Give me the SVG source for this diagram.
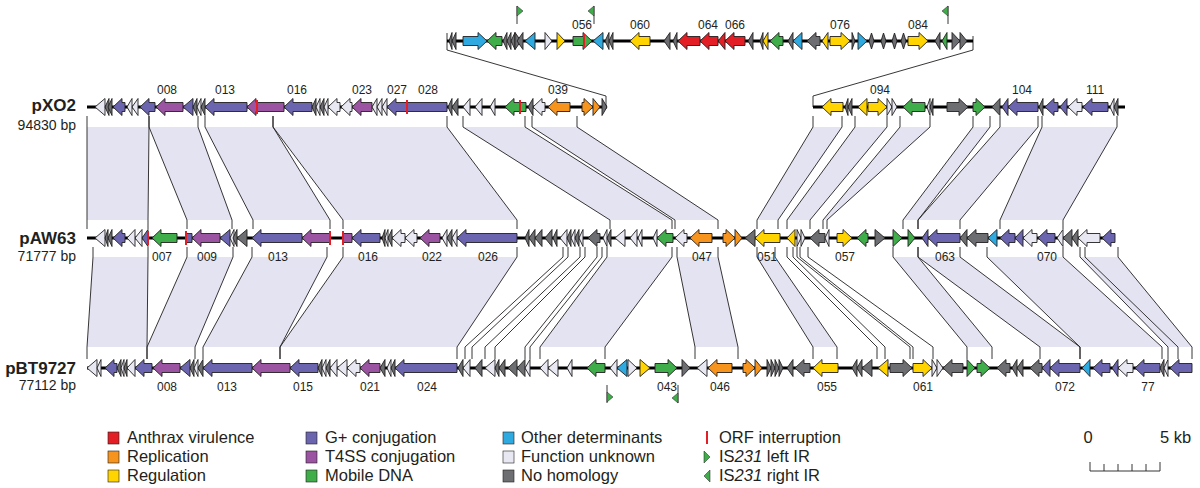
<svg xmlns="http://www.w3.org/2000/svg" width="1200" height="488" viewBox="0 0 1200 488">
<style>
.gn path{stroke:#231f20;stroke-width:0.9}
.r{fill:#e31e24}.o{fill:#f7941d}.y{fill:#ffd400}.p{fill:#6a65ae}.t{fill:#9a54a2}.m{fill:#3fad49}.b{fill:#2eaae1}.u{fill:#e8e8f3}.n{fill:#6d6e71}
.bb{fill:#e3e3f1}
.ln{fill:none;stroke:#231f20;stroke-width:0.9}
.bk{stroke:#000;stroke-width:3}
.ir{stroke:#e31e24;stroke-width:2}
.lab{font-family:"Liberation Sans",Arial,sans-serif;font-size:12px;fill:#231f20;text-anchor:middle}
.nm{font-family:"Liberation Sans",Arial,sans-serif;font-size:17px;font-weight:bold;fill:#231f20;text-anchor:end}
.bp{font-family:"Liberation Sans",Arial,sans-serif;font-size:14px;fill:#231f20;text-anchor:end}
.lg{font-family:"Liberation Sans",Arial,sans-serif;font-size:16.5px;fill:#231f20}
.fl{fill:#3fad49;stroke:#231f20;stroke-width:0.5}
</style>
<rect width="1200" height="488" fill="#fff"/>
<g id="connectors">
<g class="bb">
<polygon points="87,127 149,127 148,220 87,220"/>
<polygon points="149,127 198,127 232,220 187,220"/>
<polygon points="205,127 273,127 330,220 253,220"/>
<polygon points="273,127 447,127 517,220 343,220"/>
<polygon points="463,127 525,127 672,220 610,220"/>
<polygon points="532,127 577,127 718,220 675,220"/>
<polygon points="813,127 842,127 778,220 757,220"/>
<polygon points="855,127 887,127 810,220 787,220"/>
<polygon points="900,127 930,127 827,220 823,220"/>
<polygon points="973,127 990,127 918,220 903,220"/>
<polygon points="1000,127 1038,127 960,220 918,220"/>
<polygon points="1042,127 1117,127 1063,220 1000,220"/>
<polygon points="93,257 148,257 147,347 87,347"/>
<polygon points="187,257 233,257 195,347 147,347"/>
<polygon points="252,257 327,257 280,347 203,347"/>
<polygon points="343,257 517,257 457,347 280,347"/>
<polygon points="607,257 672,257 605,347 540,347"/>
<polygon points="677,257 718,257 738,347 695,347"/>
<polygon points="757,257 775,257 837,347 813,347"/>
<polygon points="893,257 918,257 992,347 967,347"/>
<polygon points="918,257 960,257 1080,347 1040,347"/>
<polygon points="987,257 1063,257 1162,347 1080,347"/>
<polygon points="1080,257 1118,257 1192,347 1168,347"/>
</g>
<g class="ln">
<polyline points="87,116 87,127 87,220 87,229"/>
<polyline points="149,116 149,127 148,220 148,229"/>
<polyline points="149,116 149,127 187,220 187,229"/>
<polyline points="198,116 198,127 232,220 232,229"/>
<polyline points="205,116 205,127 253,220 253,229"/>
<polyline points="273,116 273,127 330,220 330,229"/>
<polyline points="273,116 273,127 343,220 343,229"/>
<polyline points="447,116 447,127 517,220 517,229"/>
<polyline points="463,116 463,127 610,220 610,229"/>
<polyline points="525,116 525,127 672,220 672,229"/>
<polyline points="532,116 532,127 675,220 675,229"/>
<polyline points="577,116 577,127 718,220 718,229"/>
<polyline points="813,116 813,127 757,220 757,229"/>
<polyline points="842,116 842,127 778,220 778,229"/>
<polyline points="855,116 855,127 787,220 787,229"/>
<polyline points="887,116 887,127 810,220 810,229"/>
<polyline points="900,116 900,127 823,220 823,229"/>
<polyline points="930,116 930,127 827,220 827,229"/>
<polyline points="973,116 973,127 903,220 903,229"/>
<polyline points="990,116 990,127 918,220 918,229"/>
<polyline points="1000,116 1000,127 918,220 918,229"/>
<polyline points="1038,116 1038,127 960,220 960,229"/>
<polyline points="1042,116 1042,127 1000,220 1000,229"/>
<polyline points="1117,116 1117,127 1063,220 1063,229"/>
<polyline points="93,247 93,257 87,347 87,359"/>
<polyline points="148,247 148,257 147,347 147,359"/>
<polyline points="187,247 187,257 147,347 147,359"/>
<polyline points="233,247 233,257 195,347 195,359"/>
<polyline points="252,247 252,257 203,347 203,359"/>
<polyline points="327,247 327,257 280,347 280,359"/>
<polyline points="343,247 343,257 280,347 280,359"/>
<polyline points="517,247 517,257 457,347 457,359"/>
<polyline points="563,247 563,257 465,347 465,359"/>
<polyline points="568,247 568,257 472,347 472,359"/>
<polyline points="580,247 580,257 485,347 485,359"/>
<polyline points="585,247 585,257 495,347 495,359"/>
<polyline points="597,247 597,257 525,347 525,359"/>
<polyline points="602,247 602,257 530,347 530,359"/>
<polyline points="607,247 607,257 540,347 540,359"/>
<polyline points="672,247 672,257 605,347 605,359"/>
<polyline points="677,247 677,257 695,347 695,359"/>
<polyline points="718,247 718,257 738,347 738,359"/>
<polyline points="757,247 757,257 813,347 813,359"/>
<polyline points="775,247 775,257 837,347 837,359"/>
<polyline points="787,247 787,257 877,347 877,359"/>
<polyline points="793,247 793,257 885,347 885,359"/>
<polyline points="797,247 797,257 910,347 910,359"/>
<polyline points="800,247 800,257 913,347 913,359"/>
<polyline points="808,247 808,257 933,347 933,359"/>
<polyline points="893,247 893,257 967,347 967,359"/>
<polyline points="918,247 918,257 992,347 992,359"/>
<polyline points="918,247 918,257 1040,347 1040,359"/>
<polyline points="960,247 960,257 1080,347 1080,359"/>
<polyline points="987,247 987,257 1080,347 1080,359"/>
<polyline points="1063,247 1063,257 1162,347 1162,359"/>
<polyline points="1080,247 1080,257 1168,347 1168,359"/>
<polyline points="1085,247 1085,257 1178,347 1178,359"/>
<polyline points="1118,247 1118,257 1192,347 1192,359"/>
<polyline points="447,33 447,50 606,96 606,107"/>
<polyline points="973,36 973,50 813,96 813,107"/>
</g>
</g>

<g id="inset" transform="translate(0,41)">
<path class="bk" d="M447,0H973"/>
<g class="gn">
<path class="n" d="M452,-8.5L449,0L452,8.5Z"/>
<path class="n" d="M456,-8.5L452,0L456,8.5Z"/>
<path class="b" d="M463,-4.5H478V-8.5L487,0L478,8.5V4.5H463Z"/>
<path class="m" d="M502,-4.5H496V-8.5L487,0L496,8.5V4.5H502Z"/>
<path class="n" d="M507,-8.5L503,0L507,8.5Z"/>
<path class="n" d="M511,-8.5L507,0L511,8.5Z"/>
<path class="n" d="M515,-8.5L511,0L515,8.5Z"/>
<path class="n" d="M515,-8.5L521,0L515,8.5Z"/>
<path class="n" d="M523,-8.5L517,0L523,8.5Z"/>
<path class="b" d="M535,-8.5L525,0L535,8.5Z"/>
<path class="u" d="M545,-8.5L552,0L545,8.5Z"/>
<path class="y" d="M557,-8.5L565,0L557,8.5Z"/>
<path class="m" d="M573,-4.5H583V-8.5L592,0L583,8.5V4.5H573Z"/>
<path class="b" d="M603,-8.5L593,0L603,8.5Z"/>
<path class="n" d="M609,-8.5L605,0L609,8.5Z"/>
<path class="n" d="M613,-8.5L609,0L613,8.5Z"/>
<path class="y" d="M650,-4.5H639V-8.5L630,0L639,8.5V4.5H650Z"/>
<path class="n" d="M670,-8.5L664,0L670,8.5Z"/>
<path class="n" d="M677,-8.5L673,0L677,8.5Z"/>
<path class="r" d="M700,-4.5H687V-8.5L678,0L687,8.5V4.5H700Z"/>
<path class="r" d="M718,-4.5H709V-8.5L700,0L709,8.5V4.5H718Z"/>
<path class="r" d="M725,-8.5L718,0L725,8.5Z"/>
<path class="r" d="M745,-4.5H734V-8.5L725,0L734,8.5V4.5H745Z"/>
<path class="n" d="M753,-8.5L748,0L753,8.5Z"/>
<path class="n" d="M763,-8.5L760,0L763,8.5Z"/>
<path class="y" d="M768,-8.5L763,0L768,8.5Z"/>
<path class="m" d="M783,-4.5H779V-8.5L770,0L779,8.5V4.5H783Z"/>
<path class="n" d="M793,-8.5L788,0L793,8.5Z"/>
<path class="b" d="M802,-8.5L793,0L802,8.5Z"/>
<path class="n" d="M820,-4.5H816V-8.5L807,0L816,8.5V4.5H820Z"/>
<path class="y" d="M828,-8.5L822,0L828,8.5Z"/>
<path class="y" d="M830,-4.5H841V-8.5L850,0L841,8.5V4.5H830Z"/>
<path class="n" d="M852,-8.5L855,0L852,8.5Z"/>
<path class="b" d="M858,-8.5L867,0L858,8.5Z"/>
<path class="n" d="M871.5,-8L874,0L871.5,8L869,0Z"/>
<path class="n" d="M883.5,-8L886,0L883.5,8L881,0Z"/>
<path class="n" d="M894.5,-8L897,0L894.5,8L892,0Z"/>
<path class="n" d="M903.5,-8L906,0L903.5,8L901,0Z"/>
<path class="y" d="M908,-4.5H919V-8.5L928,0L919,8.5V4.5H908Z"/>
<path class="n" d="M940,-8.5L935,0L940,8.5Z"/>
<path class="m" d="M947,-8.5L942,0L947,8.5Z"/>
<path class="n" d="M952,-8.5L960,0L952,8.5Z"/>
<path class="n" d="M960,-8.5L967,0L960,8.5Z"/>
</g>
<path class="ir" d="M584,-7V7"/>
<g class="lab"><text x="582" y="-12">056</text><text x="640" y="-12">060</text><text x="708" y="-12">064</text><text x="735" y="-12">066</text><text x="840" y="-12">076</text><text x="918" y="-12">084</text></g>
</g>

<g id="flags-top">
<path class="ln" d="M517,6V24M594,6V24M948,6V24"/>
<path class="fl" d="M517,6L523,11L517,16Z"/>
<path class="fl" d="M594,6L588,11L594,16Z"/>
<path class="fl" d="M948,6L942,11L948,16Z"/>
</g>

<g id="pXO2">
<text class="nm" x="76" y="111">pXO2</text>
<text class="bp" x="76" y="130">94830 bp</text>
<g transform="translate(0,107)">
<path class="bk" d="M87,0H607M813,0H1125"/>
<g class="gn">
<path class="u" d="M105,-8.5L95,0L105,8.5Z"/>
<path class="n" d="M109,-8.5L105,0L109,8.5Z"/>
<path class="n" d="M112,-8.5L108,0L112,8.5Z"/>
<path class="p" d="M125,-4.5H122V-8.5L113,0L122,8.5V4.5H125Z"/>
<path class="u" d="M132,-8.5L127,0L132,8.5Z"/>
<path class="u" d="M138,-8.5L132,0L138,8.5Z"/>
<path class="p" d="M155,-4.5H149V-8.5L140,0L149,8.5V4.5H155Z"/>
<path class="t" d="M183,-4.5H165V-8.5L156,0L165,8.5V4.5H183Z"/>
<path class="p" d="M193,-8.5L183,0L193,8.5Z"/>
<path class="n" d="M197,-8.5L193,0L197,8.5Z"/>
<path class="u" d="M201,-8.5L197,0L201,8.5Z"/>
<path class="n" d="M205,-8.5L201,0L205,8.5Z"/>
<path class="p" d="M247,-4.5H214V-8.5L205,0L214,8.5V4.5H247Z"/>
<path class="t" d="M284,-4.5H256V-8.5L247,0L256,8.5V4.5H284Z"/>
<path class="p" d="M312,-4.5H293V-8.5L284,0L293,8.5V4.5H312Z"/>
<path class="n" d="M316,-8.5L312,0L316,8.5Z"/>
<path class="u" d="M320,-8.5L316,0L320,8.5Z"/>
<path class="n" d="M324,-8.5L320,0L324,8.5Z"/>
<path class="u" d="M328,-8.5L324,0L328,8.5Z"/>
<path class="u" d="M340,-4.5H337V-8.5L328,0L337,8.5V4.5H340Z"/>
<path class="u" d="M352,-4.5H350V-8.5L341,0L350,8.5V4.5H352Z"/>
<path class="t" d="M372,-4.5H361V-8.5L352,0L361,8.5V4.5H372Z"/>
<path class="u" d="M377,-8.5L372,0L377,8.5Z"/>
<path class="u" d="M382,-8.5L377,0L382,8.5Z"/>
<path class="u" d="M387,-8.5L382,0L387,8.5Z"/>
<path class="p" d="M447,-4.5H396V-8.5L387,0L396,8.5V4.5H447Z"/>
<path class="n" d="M452,-8.5L448,0L452,8.5Z"/>
<path class="n" d="M458,-8.5L452,0L458,8.5Z"/>
<path class="u" d="M470,-8.5L463,0L470,8.5Z"/>
<path class="u" d="M482,-8.5L475,0L482,8.5Z"/>
<path class="u" d="M495,-8.5L490,0L495,8.5Z"/>
<path class="m" d="M526,-4.5H514V-8.5L505,0L514,8.5V4.5H526Z"/>
<path class="n" d="M533,-8.5L528,0L533,8.5Z"/>
<path class="u" d="M545,-4.5H542V-8.5L533,0L542,8.5V4.5H545Z"/>
<path class="o" d="M570,-4.5H557V-8.5L548,0L557,8.5V4.5H570Z"/>
<path class="o" d="M582,-4.5H584V-8.5L593,0L584,8.5V4.5H582Z"/>
<path class="o" d="M593,-8.5L600,0L593,8.5Z"/>
<path class="n" d="M602,-8.5L607,0L602,8.5Z"/>
<path class="y" d="M843,-4.5H831V-8.5L822,0L831,8.5V4.5H843Z"/>
<path class="n" d="M848,-8.5L845,0L848,8.5Z"/>
<path class="n" d="M852,-8.5L848,0L852,8.5Z"/>
<path class="y" d="M867,-8.5L858,0L867,8.5Z"/>
<path class="y" d="M868,-4.5H878V-8.5L887,0L878,8.5V4.5H868Z"/>
<path class="u" d="M887,-8.5L892,0L887,8.5Z"/>
<path class="u" d="M892,-8.5L897,0L892,8.5Z"/>
<path class="m" d="M925,-4.5H912V-8.5L903,0L912,8.5V4.5H925Z"/>
<path class="u" d="M930,-8.5L927,0L930,8.5Z"/>
<path class="n" d="M933,-8.5L930,0L933,8.5Z"/>
<path class="n" d="M947,-4.5H959V-8.5L968,0L959,8.5V4.5H947Z"/>
<path class="m" d="M973,-4.5H976V-8.5L985,0L976,8.5V4.5H973Z"/>
<path class="n" d="M1000,-8.5L992,0L1000,8.5Z"/>
<path class="p" d="M1008,-8.5L1002,0L1008,8.5Z"/>
<path class="p" d="M1038,-4.5H1017V-8.5L1008,0L1017,8.5V4.5H1038Z"/>
<path class="n" d="M1043,-8.5L1039,0L1043,8.5Z"/>
<path class="p" d="M1058,-4.5H1054V-8.5L1045,0L1054,8.5V4.5H1058Z"/>
<path class="p" d="M1067,-8.5L1060,0L1067,8.5Z"/>
<path class="u" d="M1082,-4.5H1077V-8.5L1068,0L1077,8.5V4.5H1082Z"/>
<path class="p" d="M1108,-4.5H1092V-8.5L1083,0L1092,8.5V4.5H1108Z"/>
<path class="u" d="M1114,-8.5L1110,0L1114,8.5Z"/>
<path class="n" d="M1118,-8.5L1114,0L1118,8.5Z"/>
</g>
<path class="ir" d="M257,-7V7M407,-7V7M520,-7V7"/>
<g class="lab"><text x="167" y="-13">008</text><text x="225" y="-13">013</text><text x="297" y="-13">016</text><text x="362" y="-13">023</text><text x="397" y="-13">027</text><text x="428" y="-13">028</text><text x="558" y="-13">039</text><text x="880" y="-13">094</text><text x="1022" y="-13">104</text><text x="1095" y="-13">111</text></g>
</g>
</g>

<g id="pAW63">
<text class="nm" x="76" y="244">pAW63</text>
<text class="bp" x="76" y="261">71777 bp</text>
<g transform="translate(0,238)">
<path class="bk" d="M87,0H1115"/>
<g class="gn">
<path class="u" d="M105,-8.5L95,0L105,8.5Z"/>
<path class="n" d="M108,-8.5L105,0L108,8.5Z"/>
<path class="n" d="M112,-8.5L108,0L112,8.5Z"/>
<path class="p" d="M125,-4.5H122V-8.5L113,0L122,8.5V4.5H125Z"/>
<path class="u" d="M135,-8.5L127,0L135,8.5Z"/>
<path class="u" d="M142,-8.5L135,0L142,8.5Z"/>
<path class="p" d="M148,-8.5L142,0L148,8.5Z"/>
<path class="m" d="M177,-4.5H161V-8.5L152,0L161,8.5V4.5H177Z"/>
<path class="p" d="M186,-4.5H192V4.5H186Z"/>
<path class="t" d="M220,-4.5H201V-8.5L192,0L201,8.5V4.5H220Z"/>
<path class="p" d="M230,-8.5L220,0L230,8.5Z"/>
<path class="u" d="M234,-8.5L230,0L234,8.5Z"/>
<path class="n" d="M237,-8.5L233,0L237,8.5Z"/>
<path class="n" d="M247,-8.5L237,0L247,8.5Z"/>
<path class="p" d="M302,-4.5H261V-8.5L252,0L261,8.5V4.5H302Z"/>
<path class="t" d="M330,-4.5H311V-8.5L302,0L311,8.5V4.5H330Z"/>
<path class="t" d="M343,-4.5H352V4.5H343Z"/>
<path class="p" d="M380,-4.5H361V-8.5L352,0L361,8.5V4.5H380Z"/>
<path class="n" d="M385,-8.5L382,0L385,8.5Z"/>
<path class="u" d="M388,-8.5L385,0L388,8.5Z"/>
<path class="n" d="M392,-8.5L388,0L392,8.5Z"/>
<path class="u" d="M405,-4.5H401V-8.5L392,0L401,8.5V4.5H405Z"/>
<path class="u" d="M417,-4.5H414V-8.5L405,0L414,8.5V4.5H417Z"/>
<path class="t" d="M440,-4.5H429V-8.5L420,0L429,8.5V4.5H440Z"/>
<path class="u" d="M447,-8.5L442,0L447,8.5Z"/>
<path class="n" d="M452,-8.5L447,0L452,8.5Z"/>
<path class="u" d="M457,-8.5L452,0L457,8.5Z"/>
<path class="p" d="M517,-4.5H466V-8.5L457,0L466,8.5V4.5H517Z"/>
<path class="n" d="M529,-8.5L525,0L529,8.5Z"/>
<path class="n" d="M535,-8.5L529,0L535,8.5Z"/>
<path class="n" d="M542,-8.5L535,0L542,8.5Z"/>
<path class="n" d="M552,-8.5L545,0L552,8.5Z"/>
<path class="n" d="M557,-8.5L553,0L557,8.5Z"/>
<path class="u" d="M567,-8.5L560,0L567,8.5Z"/>
<path class="n" d="M571,-8.5L567,0L571,8.5Z"/>
<path class="u" d="M575,-8.5L571,0L575,8.5Z"/>
<path class="n" d="M579,-8.5L575,0L579,8.5Z"/>
<path class="u" d="M583,-8.5L579,0L583,8.5Z"/>
<path class="n" d="M600,-4.5H597V-8.5L588,0L597,8.5V4.5H600Z"/>
<path class="u" d="M607,-8.5L603,0L607,8.5Z"/>
<path class="n" d="M611,-8.5L607,0L611,8.5Z"/>
<path class="u" d="M625,-8.5L615,0L625,8.5Z"/>
<path class="u" d="M637,-8.5L630,0L637,8.5Z"/>
<path class="u" d="M642,-8.5L638,0L642,8.5Z"/>
<path class="u" d="M657,-8.5L653,0L657,8.5Z"/>
<path class="m" d="M673,-4.5H666V-8.5L657,0L666,8.5V4.5H673Z"/>
<path class="u" d="M687,-4.5H684V-8.5L675,0L684,8.5V4.5H687Z"/>
<path class="o" d="M712,-4.5H699V-8.5L690,0L699,8.5V4.5H712Z"/>
<path class="o" d="M723,-4.5H726V-8.5L735,0L726,8.5V4.5H723Z"/>
<path class="o" d="M735,-8.5L742,0L735,8.5Z"/>
<path class="n" d="M755,-8.5L745,0L755,8.5Z"/>
<path class="y" d="M780,-4.5H764V-8.5L755,0L764,8.5V4.5H780Z"/>
<path class="y" d="M795,-8.5L787,0L795,8.5Z"/>
<path class="u" d="M797,-8.5L801,0L797,8.5Z"/>
<path class="u" d="M801,-8.5L805,0L801,8.5Z"/>
<path class="n" d="M825,-4.5H819V-8.5L810,0L819,8.5V4.5H825Z"/>
<path class="u" d="M829,-8.5L825,0L829,8.5Z"/>
<path class="y" d="M837,-4.5H843V-8.5L852,0L843,8.5V4.5H837Z"/>
<path class="m" d="M868,-4.5H866V-8.5L857,0L866,8.5V4.5H868Z"/>
<path class="n" d="M875,-8.5L885,0L875,8.5Z"/>
<path class="m" d="M893,-8.5L902,0L893,8.5Z"/>
<path class="m" d="M908,-8.5L915,0L908,8.5Z"/>
<path class="p" d="M928,-8.5L922,0L928,8.5Z"/>
<path class="p" d="M960,-4.5H937V-8.5L928,0L937,8.5V4.5H960Z"/>
<path class="n" d="M967,-8.5L960,0L967,8.5Z"/>
<path class="n" d="M988,-4.5H976V-8.5L967,0L976,8.5V4.5H988Z"/>
<path class="b" d="M997,-8.5L988,0L997,8.5Z"/>
<path class="p" d="M1015,-4.5H1009V-8.5L1000,0L1009,8.5V4.5H1015Z"/>
<path class="p" d="M1023,-8.5L1015,0L1023,8.5Z"/>
<path class="u" d="M1037,-4.5H1032V-8.5L1023,0L1032,8.5V4.5H1037Z"/>
<path class="p" d="M1055,-4.5H1047V-8.5L1038,0L1047,8.5V4.5H1055Z"/>
<path class="u" d="M1063,-8.5L1057,0L1063,8.5Z"/>
<path class="n" d="M1072,-8.5L1063,0L1072,8.5Z"/>
<path class="n" d="M1078,-8.5L1072,0L1078,8.5Z"/>
<path class="u" d="M1100,-4.5H1087V-8.5L1078,0L1087,8.5V4.5H1100Z"/>
<path class="p" d="M1115,-4.5H1111V-8.5L1102,0L1111,8.5V4.5H1115Z"/>
</g>
<path class="ir" d="M148,-7V7M186,-7V7M330,-7V7M343,-7V7"/>
<g class="lab"><text x="162" y="23">007</text><text x="207" y="23">009</text><text x="278" y="23">013</text><text x="368" y="23">016</text><text x="432" y="23">022</text><text x="488" y="23">026</text><text x="702" y="23">047</text><text x="767" y="23">051</text><text x="845" y="23">057</text><text x="945" y="23">063</text><text x="1047" y="23">070</text></g>
</g>
</g>

<g id="pBT9727">
<text class="nm" x="76" y="374">pBT9727</text>
<text class="bp" x="76" y="390">77112 bp</text>
<g transform="translate(0,368)">
<path class="bk" d="M87,0H1192"/>
<g class="gn">
<path class="u" d="M97,-8.5L87,0L97,8.5Z"/>
<path class="u" d="M101,-8.5L97,0L101,8.5Z"/>
<path class="p" d="M117,-4.5H114V-8.5L105,0L114,8.5V4.5H117Z"/>
<path class="n" d="M121,-8.5L117,0L121,8.5Z"/>
<path class="u" d="M124,-8.5L121,0L124,8.5Z"/>
<path class="n" d="M127,-8.5L124,0L127,8.5Z"/>
<path class="u" d="M135,-8.5L127,0L135,8.5Z"/>
<path class="p" d="M152,-4.5H144V-8.5L135,0L144,8.5V4.5H152Z"/>
<path class="t" d="M180,-4.5H162V-8.5L153,0L162,8.5V4.5H180Z"/>
<path class="p" d="M190,-8.5L180,0L190,8.5Z"/>
<path class="n" d="M194,-8.5L190,0L194,8.5Z"/>
<path class="u" d="M198,-8.5L194,0L198,8.5Z"/>
<path class="n" d="M203,-8.5L198,0L203,8.5Z"/>
<path class="p" d="M252,-4.5H212V-8.5L203,0L212,8.5V4.5H252Z"/>
<path class="t" d="M290,-4.5H261V-8.5L252,0L261,8.5V4.5H290Z"/>
<path class="p" d="M318,-4.5H299V-8.5L290,0L299,8.5V4.5H318Z"/>
<path class="n" d="M322,-8.5L318,0L322,8.5Z"/>
<path class="u" d="M326,-8.5L322,0L326,8.5Z"/>
<path class="n" d="M330,-8.5L326,0L330,8.5Z"/>
<path class="u" d="M337,-8.5L330,0L337,8.5Z"/>
<path class="u" d="M347,-8.5L337,0L347,8.5Z"/>
<path class="u" d="M360,-4.5H356V-8.5L347,0L356,8.5V4.5H360Z"/>
<path class="t" d="M380,-4.5H369V-8.5L360,0L369,8.5V4.5H380Z"/>
<path class="n" d="M385,-8.5L380,0L385,8.5Z"/>
<path class="u" d="M391,-8.5L387,0L391,8.5Z"/>
<path class="n" d="M395,-8.5L391,0L395,8.5Z"/>
<path class="p" d="M457,-4.5H404V-8.5L395,0L404,8.5V4.5H457Z"/>
<path class="n" d="M463,-8.5L458,0L463,8.5Z"/>
<path class="u" d="M470,-8.5L463,0L470,8.5Z"/>
<path class="n" d="M482,-8.5L475,0L482,8.5Z"/>
<path class="u" d="M495,-8.5L485,0L495,8.5Z"/>
<path class="n" d="M499,-8.5L495,0L499,8.5Z"/>
<path class="n" d="M505,-8.5L499,0L505,8.5Z"/>
<path class="n" d="M517,-8.5L508,0L517,8.5Z"/>
<path class="n" d="M525,-8.5L517,0L525,8.5Z"/>
<path class="u" d="M530,-8.5L525,0L530,8.5Z"/>
<path class="u" d="M548,-8.5L540,0L548,8.5Z"/>
<path class="u" d="M558,-8.5L548,0L558,8.5Z"/>
<path class="u" d="M572,-8.5L567,0L572,8.5Z"/>
<path class="m" d="M605,-4.5H596V-8.5L587,0L596,8.5V4.5H605Z"/>
<path class="u" d="M617,-8.5L610,0L617,8.5Z"/>
<path class="b" d="M627,-8.5L617,0L627,8.5Z"/>
<path class="u" d="M628,-8.5L637,0L628,8.5Z"/>
<path class="y" d="M640,-8.5L650,0L640,8.5Z"/>
<path class="m" d="M655,-4.5H668V-8.5L677,0L668,8.5V4.5H655Z"/>
<path class="n" d="M682,-8.5L690,0L682,8.5Z"/>
<path class="u" d="M707,-8.5L697,0L707,8.5Z"/>
<path class="o" d="M732,-4.5H717V-8.5L708,0L717,8.5V4.5H732Z"/>
<path class="o" d="M743,-4.5H746V-8.5L755,0L746,8.5V4.5H743Z"/>
<path class="o" d="M755,-8.5L762,0L755,8.5Z"/>
<path class="n" d="M767,-8.5L771,0L767,8.5Z"/>
<path class="n" d="M771,-8.5L775,0L771,8.5Z"/>
<path class="n" d="M775,-8.5L779,0L775,8.5Z"/>
<path class="n" d="M779,-8.5L783,0L779,8.5Z"/>
<path class="n" d="M793,-8.5L787,0L793,8.5Z"/>
<path class="n" d="M810,-4.5H804V-8.5L795,0L804,8.5V4.5H810Z"/>
<path class="y" d="M838,-4.5H822V-8.5L813,0L822,8.5V4.5H838Z"/>
<path class="n" d="M857,-8.5L852,0L857,8.5Z"/>
<path class="n" d="M862,-8.5L857,0L862,8.5Z"/>
<path class="n" d="M872,-8.5L862,0L872,8.5Z"/>
<path class="y" d="M888,-8.5L878,0L888,8.5Z"/>
<path class="n" d="M890,-4.5H903V-8.5L912,0L903,8.5V4.5H890Z"/>
<path class="y" d="M913,-4.5H923V-8.5L932,0L923,8.5V4.5H913Z"/>
<path class="u" d="M932,-8.5L937,0L932,8.5Z"/>
<path class="u" d="M937,-8.5L943,0L937,8.5Z"/>
<path class="n" d="M963,-4.5H952V-8.5L943,0L952,8.5V4.5H963Z"/>
<path class="m" d="M967,-8.5L975,0L967,8.5Z"/>
<path class="m" d="M977,-4.5H981V-8.5L990,0L981,8.5V4.5H977Z"/>
<path class="n" d="M1010,-4.5H1006V-8.5L997,0L1006,8.5V4.5H1010Z"/>
<path class="n" d="M1017,-8.5L1012,0L1017,8.5Z"/>
<path class="n" d="M1023,-8.5L1017,0L1023,8.5Z"/>
<path class="n" d="M1042,-4.5H1039V-8.5L1030,0L1039,8.5V4.5H1042Z"/>
<path class="p" d="M1050,-8.5L1042,0L1050,8.5Z"/>
<path class="p" d="M1080,-4.5H1059V-8.5L1050,0L1059,8.5V4.5H1080Z"/>
<path class="b" d="M1090,-8.5L1082,0L1090,8.5Z"/>
<path class="p" d="M1110,-4.5H1102V-8.5L1093,0L1102,8.5V4.5H1110Z"/>
<path class="p" d="M1118,-8.5L1112,0L1118,8.5Z"/>
<path class="u" d="M1133,-4.5H1127V-8.5L1118,0L1127,8.5V4.5H1133Z"/>
<path class="p" d="M1160,-4.5H1144V-8.5L1135,0L1144,8.5V4.5H1160Z"/>
<path class="n" d="M1164,-8.5L1160,0L1164,8.5Z"/>
<path class="u" d="M1168,-8.5L1164,0L1168,8.5Z"/>
<path class="p" d="M1192,-4.5H1179V-8.5L1170,0L1179,8.5V4.5H1192Z"/>
</g>
<g class="lab"><text x="167" y="23">008</text><text x="227" y="23">013</text><text x="303" y="23">015</text><text x="370" y="23">021</text><text x="427" y="23">024</text><text x="667" y="23">043</text><text x="720" y="23">046</text><text x="827" y="23">055</text><text x="923" y="23">061</text><text x="1065" y="23">072</text><text x="1148" y="23">77</text></g>
</g>
<path class="ln" d="M607,385V403M678,385V403"/>
<path class="fl" d="M607,392L613,397L607,402Z"/>
<path class="fl" d="M678,393L672,398L678,403Z"/>
</g>

<g id="legend">
<rect x="108" y="432" width="11" height="12" fill="#e31e24" stroke="#231f20" stroke-width="0.6"/>
<rect x="108" y="451" width="11" height="12" fill="#f7941d" stroke="#231f20" stroke-width="0.6"/>
<rect x="108" y="470" width="11" height="12" fill="#ffd400" stroke="#231f20" stroke-width="0.6"/>
<text class="lg" x="127" y="443">Anthrax virulence</text>
<text class="lg" x="127" y="462">Replication</text>
<text class="lg" x="127" y="481">Regulation</text>
<rect x="306" y="432" width="11" height="12" fill="#6a65ae" stroke="#231f20" stroke-width="0.6"/>
<rect x="306" y="451" width="11" height="12" fill="#9a54a2" stroke="#231f20" stroke-width="0.6"/>
<rect x="306" y="470" width="11" height="12" fill="#3fad49" stroke="#231f20" stroke-width="0.6"/>
<text class="lg" x="325" y="443">G+ conjugation</text>
<text class="lg" x="325" y="462">T4SS conjugation</text>
<text class="lg" x="325" y="481">Mobile DNA</text>
<rect x="503" y="432" width="11" height="12" fill="#2eaae1" stroke="#231f20" stroke-width="0.6"/>
<rect x="503" y="451" width="11" height="12" fill="#e8e8f3" stroke="#231f20" stroke-width="0.6"/>
<rect x="503" y="470" width="11" height="12" fill="#6d6e71" stroke="#231f20" stroke-width="0.6"/>
<text class="lg" x="521" y="443">Other determinants</text>
<text class="lg" x="521" y="462">Function unknown</text>
<text class="lg" x="521" y="481">No homology</text>
<path class="ir" d="M707,431V444"/>
<path class="fl" d="M704,451L710,457L704,463Z"/>
<path class="fl" d="M710,470L704,476L710,482Z"/>
<text class="lg" x="719" y="443">ORF interruption</text>
<text class="lg" x="719" y="462">IS<tspan font-style="italic">231</tspan> left IR</text>
<text class="lg" x="719" y="481">IS<tspan font-style="italic">231</tspan> right IR</text>
</g>

<g id="scale">
<text class="lg" x="1088" y="443" font-size="14" text-anchor="middle">0</text>
<text class="lg" x="1160" y="443" font-size="14">5 kb</text>
<path class="ln" d="M1090,471H1160M1090,471V462M1104,471V464M1118,471V464M1132,471V464M1146,471V464M1160,471V462"/>
</g>
</svg>
